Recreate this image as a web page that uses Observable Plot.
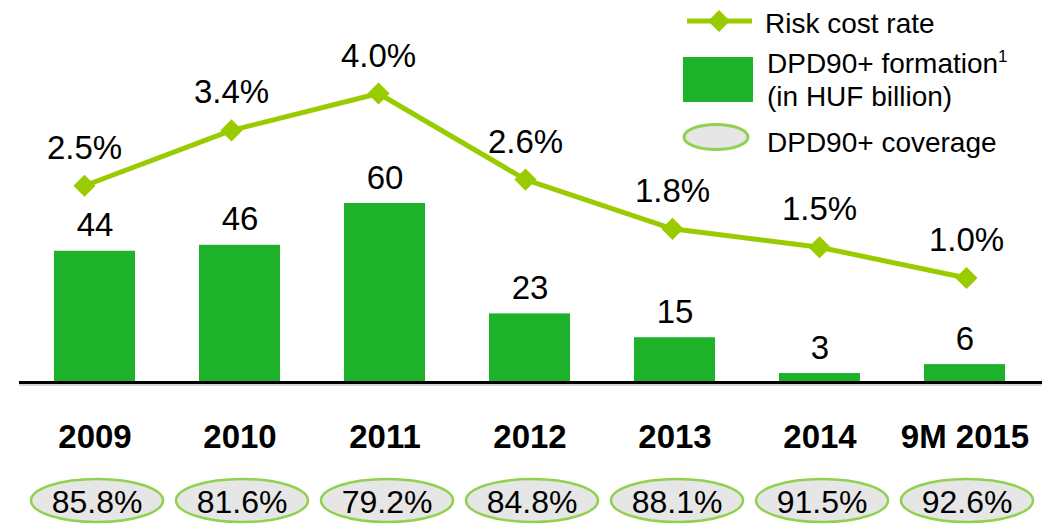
<!DOCTYPE html>
<html><head><meta charset="utf-8">
<script src="https://cdn.jsdelivr.net/npm/d3@7"></script>
<script src="https://cdn.jsdelivr.net/npm/@observablehq/plot@0.6"></script>
<style>
body{margin:0;background:#fff;}
#chart{position:relative;width:1056px;height:526px;font-family:"Liberation Sans",Arial,sans-serif;}
#chart svg{position:absolute;left:0;top:0;}
</style></head><body><div id="chart"></div>
<script>
// ---- data ----
const periods = ["2009","2010","2011","2012","2013","2014","9M 2015"];
const formation = [44,46,60,23,15,3,6];          // DPD90+ formation, HUF bn
const riskCostRate = [2.5,3.4,4.0,2.6,1.8,1.5,1.0]; // %
const coverage = [85.8,81.6,79.2,84.8,88.1,91.5,92.6]; // %
const legendLabels = ["Risk cost rate","DPD90+ formation","1","(in HUF billion)","DPD90+ coverage"];

const rows = periods.map((p,i)=>({period:p, formation:formation[i], rate:riskCostRate[i], coverage:coverage[i]}));

const barGreen="#1db22a", lineGreen="#99cc00", ellStroke="#92d050", ellFill="#e6e6e6";
const font = '"Liberation Sans", Arial, sans-serif';

function ellipseSymbol(rx, ry){
  const k=0.5522847, kx=rx*k, ky=ry*k;
  return {draw(ctx){
    ctx.moveTo(-rx,0);
    ctx.bezierCurveTo(-rx,-ky,-kx,-ry,0,-ry);
    ctx.bezierCurveTo(kx,-ry,rx,-ky,rx,0);
    ctx.bezierCurveTo(rx,ky,kx,ry,0,ry);
    ctx.bezierCurveTo(-kx,ry,-rx,ky,-rx,0);
    ctx.closePath();
  }};
}

const chart = document.getElementById("chart");

const main = Plot.plot({
  width:1056, height:526, marginTop:0, marginBottom:0, marginLeft:19, marginRight:14,
  style:{fontFamily:font, background:"transparent", color:"#000"},
  x:{type:"band", domain:periods, range:[21,1038], paddingInner:0.44, paddingOuter:0.22, axis:null},
  y:{domain:[0,60], range:[382,203], axis:null},
  marks:[
    Plot.barY(rows,{x:"period", y:"formation", fill:barGreen}),
    Plot.ruleY([0],{stroke:"#c8c8c8", strokeWidth:1.5, dy:2.5}),
    Plot.ruleY([0],{stroke:"#000", strokeWidth:3}),
    Plot.text(rows,{x:"period", y:"formation", text:d=>String(d.formation), lineAnchor:"bottom", dy:-15, fontSize:33, fill:"#000"}),
    Plot.text(rows,{x:"period", text:"period", frameAnchor:"bottom", dy:-79, lineAnchor:"bottom", fontSize:33, fontWeight:"bold", fill:"#000"}),
    Plot.dot(rows,{x:"period", frameAnchor:"bottom", dy:-26, dx:2, symbol:ellipseSymbol(66,21.5), r:10, fill:ellFill, stroke:ellStroke, strokeWidth:2.5}),
    Plot.text(rows,{x:"period", text:d=>d.coverage.toFixed(1)+"%", frameAnchor:"bottom", dy:-14, dx:2, lineAnchor:"bottom", fontSize:32, fill:"#000"})
  ]
});
chart.appendChild(main);

const linePlot = Plot.plot({
  width:1056, height:526, margin:0,
  style:{fontFamily:font, background:"transparent", color:"#000"},
  x:{type:"point", domain:periods, range:[83,967], padding:0, axis:null},
  y:{domain:[1,4], range:[277.5,93], axis:null},
  marks:[
    Plot.line(rows,{x:"period", y:"rate", stroke:lineGreen, strokeWidth:5}),
    Plot.dot(rows,{x:"period", y:"rate", symbol:"diamond2", r:10, fill:lineGreen, stroke:"none"}),
    Plot.text(rows,{x:"period", y:"rate", text:d=>d.rate.toFixed(1)+"%", lineAnchor:"bottom", dy:-27, fontSize:33, fill:"#000"})
  ]
});
chart.appendChild(linePlot);

// ---- legend ----
const leg = d3.create("svg").attr("width",1056).attr("height",526)
  .style("font-family",font).style("font-size","28px");
leg.append("line").attr("x1",687).attr("x2",752).attr("y1",21).attr("y2",21)
  .attr("stroke",lineGreen).attr("stroke-width",5);
leg.append("path").attr("d","M719,10L730,21L719,32L708,21Z").attr("fill",lineGreen);
leg.append("text").attr("x",765).attr("y",33).text(legendLabels[0]);
leg.append("rect").attr("x",683).attr("y",57).attr("width",70).attr("height",45).attr("fill",barGreen);
const t2 = leg.append("text").attr("x",767).attr("y",73);
t2.append("tspan").text(legendLabels[1]);
t2.append("tspan").attr("dy",-11).attr("font-size",17).text(legendLabels[2]);
leg.append("text").attr("x",767).attr("y",106).text(legendLabels[3]);
leg.append("ellipse").attr("cx",716).attr("cy",137).attr("rx",32).attr("ry",12.5)
  .attr("fill",ellFill).attr("stroke",ellStroke).attr("stroke-width",3);
leg.append("text").attr("x",767).attr("y",152).text(legendLabels[4]);
chart.appendChild(leg.node());
</script>
</body></html>
